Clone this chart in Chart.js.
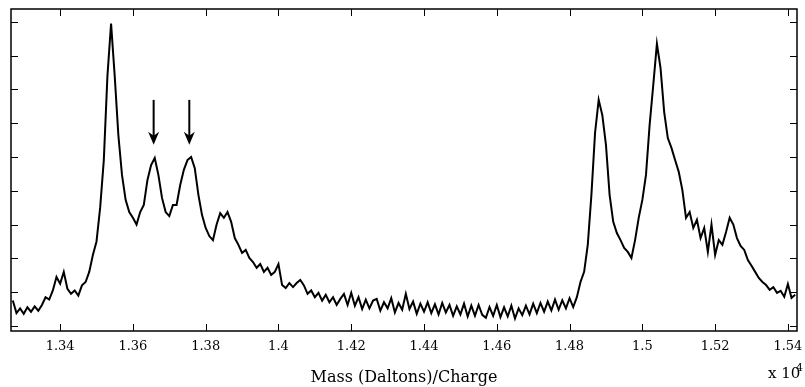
<!DOCTYPE html>
<html lang="en">
<head>
    <meta charset="UTF-8">
    <title>Mass spectrum</title>
    <script src="https://cdn.jsdelivr.net/npm/chart.js"></script>
    <style>
        html, body { margin: 0; padding: 0; background: #fff; }
        .chart-area { width: 805px; height: 387px; position: relative; }
    </style>
</head>
<body>
    <div class="chart-area">
        <canvas id="grafico"></canvas>
    </div>

<script>
    // mass values (x 10^4), sampled along the spectrum
    const massValues = [
        1.327, 1.328, 1.329, 1.330, 1.331, 1.332, 1.333, 1.334, 1.335, 1.336,
        1.337, 1.338, 1.339, 1.340, 1.341, 1.342, 1.343, 1.344, 1.345, 1.346,
        1.347, 1.348, 1.349, 1.350, 1.351, 1.352, 1.353, 1.354, 1.355, 1.356,
        1.357, 1.358, 1.359, 1.360, 1.361, 1.362, 1.363, 1.364, 1.365, 1.366,
        1.367, 1.368, 1.369, 1.370, 1.371, 1.372, 1.373, 1.374, 1.375, 1.376,
        1.377, 1.378, 1.379, 1.380, 1.381, 1.382, 1.383, 1.384, 1.385, 1.386,
        1.387, 1.388, 1.389, 1.390, 1.391, 1.392, 1.393, 1.394, 1.395, 1.396,
        1.397, 1.398, 1.399, 1.400, 1.401, 1.402, 1.403, 1.404, 1.405, 1.406,
        1.407, 1.408, 1.409, 1.410, 1.411, 1.412, 1.413, 1.414, 1.415, 1.416,
        1.417, 1.418, 1.419, 1.420, 1.421, 1.422, 1.423, 1.424, 1.425, 1.426,
        1.427, 1.428, 1.429, 1.430, 1.431, 1.432, 1.433, 1.434, 1.435, 1.436,
        1.437, 1.438, 1.439, 1.440, 1.441, 1.442, 1.443, 1.444, 1.445, 1.446,
        1.447, 1.448, 1.449, 1.450, 1.451, 1.452, 1.453, 1.454, 1.455, 1.456,
        1.457, 1.458, 1.459, 1.460, 1.461, 1.462, 1.463, 1.464, 1.465, 1.466,
        1.467, 1.468, 1.469, 1.470, 1.471, 1.472, 1.473, 1.474, 1.475, 1.476,
        1.477, 1.478, 1.479, 1.480, 1.481, 1.482, 1.483, 1.484, 1.485, 1.486,
        1.487, 1.488, 1.489, 1.490, 1.491, 1.492, 1.493, 1.494, 1.495, 1.496,
        1.497, 1.498, 1.499, 1.500, 1.501, 1.502, 1.503, 1.504, 1.505, 1.506,
        1.507, 1.508, 1.509, 1.510, 1.511, 1.512, 1.513, 1.514, 1.515, 1.516,
        1.517, 1.518, 1.519, 1.520, 1.521, 1.522, 1.523, 1.524, 1.525, 1.526,
        1.527, 1.528, 1.529, 1.530, 1.531, 1.532, 1.533, 1.534, 1.535, 1.536,
        1.537, 1.538, 1.539, 1.540, 1.541, 1.542
    ];

    // intensity (arbitrary units, one tick = 1)
    const intensity = [
        0.75, 0.38, 0.52, 0.36, 0.55, 0.42, 0.58, 0.45, 0.62, 0.85,
        0.78, 1.05, 1.45, 1.25, 1.60, 1.10, 0.95, 1.05, 0.90, 1.20,
        1.30, 1.60, 2.10, 2.50, 3.50, 4.90, 7.40, 8.95, 7.40, 5.65,
        4.47, 3.73, 3.37, 3.20, 3.00, 3.37, 3.58, 4.32, 4.76, 4.97,
        4.47, 3.79, 3.37, 3.25, 3.58, 3.58, 4.17, 4.62, 4.91, 5.00,
        4.67, 3.88, 3.28, 2.90, 2.66, 2.54, 3.00, 3.34, 3.20, 3.37,
        3.08, 2.60, 2.40, 2.16, 2.25, 2.01, 1.89, 1.72, 1.83, 1.60,
        1.72, 1.51, 1.60, 1.83, 1.21, 1.12, 1.27, 1.15, 1.27, 1.36,
        1.20, 0.95, 1.05, 0.85, 0.98, 0.75, 0.92, 0.70, 0.85, 0.62,
        0.80, 0.95, 0.62, 0.98, 0.60, 0.85, 0.50, 0.78, 0.52, 0.75,
        0.80, 0.45, 0.70, 0.52, 0.82, 0.40, 0.68, 0.48, 0.95, 0.50,
        0.72, 0.36, 0.66, 0.42, 0.70, 0.38, 0.64, 0.34, 0.68, 0.40,
        0.62, 0.30, 0.58, 0.34, 0.66, 0.28, 0.60, 0.30, 0.62, 0.33,
        0.24, 0.56, 0.30, 0.62, 0.26, 0.55, 0.28, 0.60, 0.22, 0.52,
        0.32, 0.60, 0.34, 0.66, 0.38, 0.68, 0.42, 0.72, 0.46, 0.78,
        0.48, 0.76, 0.52, 0.82, 0.56, 0.85, 1.30, 1.60, 2.40, 3.88,
        5.71, 6.69, 6.24, 5.36, 3.88, 3.08, 2.75, 2.54, 2.31, 2.19,
        2.01, 2.54, 3.20, 3.73, 4.47, 5.95, 7.13, 8.35, 7.63, 6.33,
        5.56, 5.27, 4.91, 4.56, 4.02, 3.20, 3.37, 2.90, 3.14, 2.60,
        2.90, 2.19, 3.00, 2.10, 2.54, 2.40, 2.78, 3.20, 3.00, 2.60,
        2.37, 2.25, 1.95, 1.78, 1.60, 1.42, 1.30, 1.21, 1.07, 1.15,
        0.98, 1.04, 0.86, 1.24, 0.83, 0.92
    ];

    const xTickValues = [1.34, 1.36, 1.38, 1.40, 1.42, 1.44, 1.46, 1.48, 1.50, 1.52, 1.54];
    const xTickLabels = ['1.34', '1.36', '1.38', '1.4', '1.42', '1.44', '1.46', '1.48', '1.5', '1.52', '1.54'];
    const yTickValues = [0, 1, 2, 3, 4, 5, 6, 7, 8, 9];

    // the two marked peaks
    const arrowMass = [1.3657, 1.3755];
    const arrowTop = [6.69, 6.69];
    const arrowTip = [5.36, 5.36];

    const serif = "'DejaVu Serif', 'Liberation Serif', serif";

    const pontos = [];
    for (var i = 0; i < massValues.length; i++) {
        pontos.push({ x: massValues[i], y: intensity[i] });
    }

    // frame, inward ticks, arrows and the x 10^4 note
    const molduraPlugin = {
        id: 'moldura',
        afterDraw(chart) {
            const ctx = chart.ctx;
            const area = chart.chartArea;
            const sx = chart.scales.x;
            const sy = chart.scales.y;
            const len = 7;

            ctx.save();
            ctx.strokeStyle = '#000';
            ctx.lineWidth = 1;
            ctx.beginPath();
            xTickValues.forEach(v => {
                const px = Math.round(sx.getPixelForValue(v)) + 0.5;
                ctx.moveTo(px, area.bottom);
                ctx.lineTo(px, area.bottom - len);
                ctx.moveTo(px, area.top);
                ctx.lineTo(px, area.top + len);
            });
            yTickValues.forEach(v => {
                const py = Math.round(sy.getPixelForValue(v)) + 0.5;
                ctx.moveTo(area.left, py);
                ctx.lineTo(area.left + len, py);
                ctx.moveTo(area.right, py);
                ctx.lineTo(area.right - len, py);
            });
            ctx.stroke();

            ctx.lineWidth = 1.5;
            ctx.strokeRect(area.left, area.top, area.right - area.left, area.bottom - area.top);

            // arrows
            ctx.fillStyle = '#000';
            ctx.lineWidth = 2;
            for (var k = 0; k < arrowMass.length; k++) {
                const ax = sx.getPixelForValue(arrowMass[k]);
                const yTop = sy.getPixelForValue(arrowTop[k]);
                const yTip = sy.getPixelForValue(arrowTip[k]);
                ctx.beginPath();
                ctx.moveTo(ax, yTop);
                ctx.lineTo(ax, yTip - 8);
                ctx.stroke();
                ctx.beginPath();
                ctx.moveTo(ax, yTip);
                ctx.lineTo(ax - 5.5, yTip - 13);
                ctx.lineTo(ax, yTip - 9);
                ctx.lineTo(ax + 5.5, yTip - 13);
                ctx.closePath();
                ctx.fill();
            }

            // x 10^4
            ctx.textBaseline = 'alphabetic';
            ctx.textAlign = 'left';
            ctx.font = '15px ' + serif;
            ctx.fillText('x 10', area.right - 29, 378);
            ctx.font = '11px ' + serif;
            ctx.fillText('4', area.right - 1, 371);
            ctx.restore();
        }
    };

    const ctx = document.getElementById('grafico').getContext('2d');

    const graficoChart = new Chart(ctx, {
        type: 'line',
        data: {
            datasets: [{
                data: pontos,
                borderColor: '#000',
                borderWidth: 2,
                pointRadius: 0,
                tension: 0,
                fill: false
            }]
        },
        options: {
            responsive: true,
            maintainAspectRatio: false,
            animation: false,
            events: [],
            layout: {
                padding: { left: 11, right: 8, top: 9, bottom: 0 }
            },
            plugins: {
                legend: { display: false },
                tooltip: { enabled: false }
            },
            scales: {
                x: {
                    type: 'linear',
                    min: 1.3265,
                    max: 1.5425,
                    afterBuildTicks: s => { s.ticks = xTickValues.map(v => ({ value: v })); },
                    afterFit: s => {
                        s.height = 56;
                        s.paddingLeft = 0;
                        s.paddingRight = 0;
                    },
                    grid: { display: false, drawTicks: false },
                    border: { display: false },
                    ticks: {
                        padding: 8,
                        color: '#000',
                        maxRotation: 0,
                        autoSkip: false,
                        font: { family: serif, size: 13 },
                        callback: (v, i) => xTickLabels[i]
                    },
                    title: {
                        display: true,
                        text: 'Mass (Daltons)/Charge',
                        color: '#000',
                        font: { family: serif, size: 16 },
                        padding: { top: 4, bottom: 0 }
                    }
                },
                y: {
                    type: 'linear',
                    min: -0.15,
                    max: 9.38,
                    afterFit: s => { s.width = 0; },
                    grid: { display: false, drawTicks: false },
                    border: { display: false },
                    ticks: { display: false }
                }
            }
        },
        plugins: [molduraPlugin]
    });
</script>
</body>
</html>
